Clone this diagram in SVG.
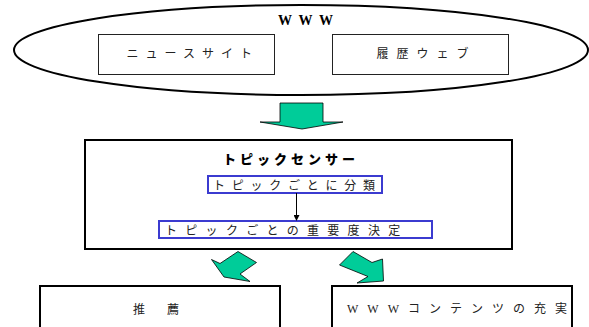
<svg xmlns="http://www.w3.org/2000/svg" width="589" height="327" viewBox="0 0 589 327">
<defs>
<marker id="ah" markerWidth="6" markerHeight="6" refX="5" refY="3" orient="auto" markerUnits="userSpaceOnUse">
<path d="M0,0 L6,3 L0,6 Z" fill="#000"/>
</marker>
<style>
.jp{font-family:"Noto Sans CJK JP","Noto Sans",sans-serif;font-size:12px;fill:#222}
.box{fill:#fff;stroke:#222;stroke-width:1}
.thick{fill:#fff;stroke:#000;stroke-width:2}
.blue{fill:#fff;stroke:#3b3bd0;stroke-width:2}
.green{fill:#00cc99;stroke:#000;stroke-width:0.8;stroke-linejoin:miter}
</style>
</defs>
<rect width="589" height="327" fill="#fff"/>
<g id="www">
<ellipse cx="301" cy="50" rx="287" ry="45" fill="#fff" stroke="#000" stroke-width="2"/>
<text x="278" y="25" font-family="'Liberation Serif',serif" font-weight="bold" font-size="14" letter-spacing="6.5">WWW</text>
</g>
<g id="news">
<rect class="box" x="98.5" y="34.5" width="176" height="40"/>
<text class="jp" x="126.5" y="58" font-size="11" letter-spacing="7">ニュースサイト</text>
</g>
<g id="history">
<rect class="box" x="332.5" y="34.5" width="176" height="40"/>
<text class="jp" x="376.5" y="58" font-size="11" letter-spacing="8">履歴ウェブ</text>
</g>
<g id="sensor">
<rect class="thick" x="85" y="140" width="427" height="109"/>
<text x="223" y="164" font-family="'Noto Sans CJK JP',sans-serif" font-weight="900" font-size="13" letter-spacing="4">トピックセンサー</text>
</g>
<g id="classify">
<rect class="blue" x="208" y="176" width="174" height="17"/>
<text class="jp" x="213" y="189.5" letter-spacing="6.75">トピックごとに分類</text>
</g>
<g id="importance">
<rect class="blue" x="159" y="221" width="273" height="17"/>
<text class="jp" x="165" y="234.5" letter-spacing="8.3">トピックごとの重要度決定</text>
</g>
<g id="recommend">
<rect class="thick" x="40" y="286" width="240" height="50"/>
<text class="jp" x="133" y="314" letter-spacing="5">推　薦</text>
</g>
<g id="enrich">
<rect class="thick" x="332" y="286" width="240" height="50"/>
<text x="347" y="313" font-family="'Liberation Serif','Noto Sans CJK JP',serif" font-size="12" fill="#222" letter-spacing="9">WWWコンテンツの充実</text>
</g>
<g id="connectors">
<polygon class="green" points="280,103 323,103 323,122 343,122 302,129 260,122 280,122"/>
<line x1="296.5" y1="193" x2="296.5" y2="220" stroke="#000" stroke-width="1" marker-end="url(#ah)"/>
<polygon class="green" points="238,251.5 256.5,262.5 240,274 250,281.5 224,277 211.5,259.5 220,263.5"/>
<polygon class="green" points="353,251.5 339.5,265 368,276.5 357,283 383.5,281 382.5,259 372,262.5"/>
</g>
</svg>
